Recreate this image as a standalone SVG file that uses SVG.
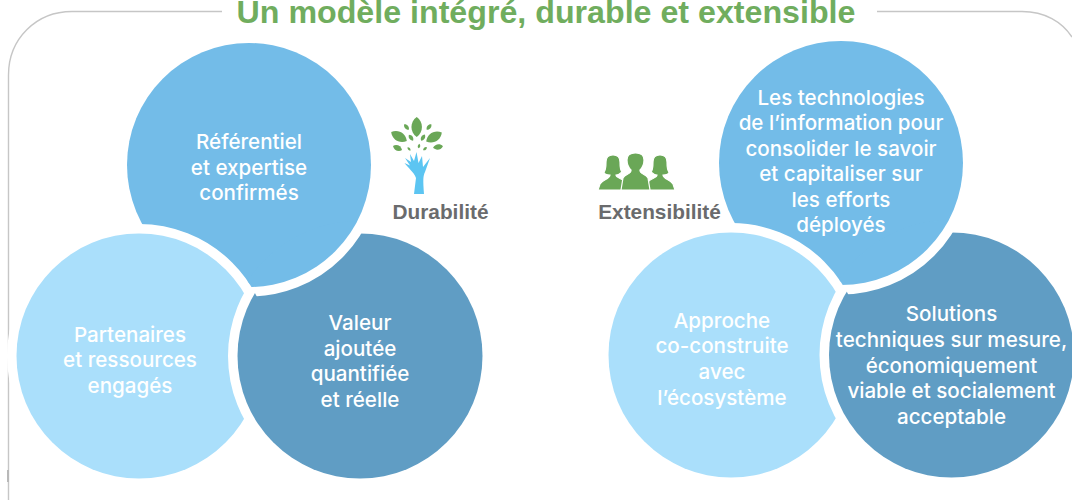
<svg xmlns="http://www.w3.org/2000/svg" width="1072" height="500" viewBox="0 0 1072 500">
<style>
text{font-family:"Inter","Liberation Sans",Arial,sans-serif;font-size:20.600px;text-anchor:middle;fill:#fff;font-weight:500}
.lbl{fill:#6a6b6d;font-weight:700;font-size:20.800px;font-family:"Liberation Sans",Arial,sans-serif}
.top{fill:#73bce8}
.ringed{stroke:#fff;stroke-width:19;paint-order:stroke}
.light{fill:#aadffb}
.dark{fill:#609dc4}
.leaf{fill:#6aa757}
.ppl{fill:#6aa757;stroke:#fff;stroke-width:1.2}
</style>
<defs>
<path id="leaf" d="M0,-10C7,-5 7,5 0,10C-7,5 -7,-5 0,-10Z"/>
<path id="side" d="M598,190L600,184C602,180 610,179 610,175C607,175 604,174 604,172C606,170 606,165 606,162C606,157 609,155 613,155C617,155 620,157 620,162C620,165 620,170 622,172C620,174 618,175 616,175C616,178 622,178 625,182L625,190Z"/>
<mask id="patch-left" maskUnits="userSpaceOnUse" x="0" y="0" width="1072" height="500">
<circle cx="360" cy="356" r="135" fill="#fff"/><circle cx="139" cy="356" r="132" fill="#000"/>
</mask>
<mask id="patch-right" maskUnits="userSpaceOnUse" x="0" y="0" width="1072" height="500">
<circle cx="951.500" cy="355" r="135" fill="#fff"/><circle cx="731" cy="355" r="132" fill="#000"/>
</mask>
</defs>
<g id="frame" fill="none" stroke="#c6c6c6" stroke-width="1.400">
<path d="M222,11.500H72C36,11.500 8.500,39 8.500,75V500"/>
<path d="M877,11.500H1022C1045,11.500 1062,22 1072,37"/>
<path d="M8,470V482" stroke="#b8b8b8" stroke-width="2"/>
</g>
<text id="title" x="546" y="22.500" style="font-size:32.200px;font-weight:700;fill:#70ad5e;font-family:'Liberation Sans',Arial,sans-serif">Un modèle intégré, durable et extensible</text>
<g id="left-top-base"><circle class="top" cx="249" cy="165" r="122"/></g>
<g id="left-light"><circle class="light ringed" cx="139" cy="356" r="122.500"/>
<text x="130" y="341.700">Partenaires</text><text x="130" y="366.700">et ressources</text><text x="130" y="392.700">engagés</text></g>
<g id="left-dark"><circle class="dark ringed" cx="360" cy="356" r="122.500"/>
<text x="360" y="330">Valeur</text><text x="360" y="356">ajoutée</text><text x="360" y="381">quantifiée</text><text x="360" y="407">et réelle</text></g>
<g id="left-top"><circle class="top ringed" cx="249" cy="165" r="122" mask="url(#patch-left)"/>
<text x="249" y="149">Référentiel</text><text x="249" y="175">et expertise</text><text x="249" y="200">confirmés</text></g>
<g id="right-top-base"><circle class="top" cx="841" cy="163" r="122"/></g>
<g id="right-light"><circle class="light ringed" cx="731" cy="355" r="122.500"/>
<text x="722" y="328">Approche</text><text x="722" y="353">co-construite</text><text x="722" y="379">avec</text><text x="722" y="405">l’écosystème</text></g>
<g id="right-dark"><circle class="dark ringed" cx="951.500" cy="355" r="122.500"/>
<text x="951.500" y="321">Solutions</text><text x="951.500" y="347">techniques sur mesure,</text><text x="951.500" y="373">économiquement</text><text x="951.500" y="398">viable et socialement</text><text x="951.500" y="424">acceptable</text></g>
<g id="right-top"><circle class="top ringed" cx="841" cy="163" r="122" mask="url(#patch-right)"/>
<text x="841" y="105">Les technologies</text><text x="841" y="130">de l’information pour</text><text x="841" y="156">consolider le savoir</text><text x="841" y="181">et capitaliser sur</text><text x="841" y="207">les efforts</text><text x="841" y="232">déployés</text></g>
<g id="durabilite">
<use href="#leaf" class="leaf" transform="translate(416.700,127) scale(1)"/>
<use href="#leaf" class="leaf" transform="translate(399,136.500) rotate(-60) scale(.9)"/>
<use href="#leaf" class="leaf" transform="translate(434,137) rotate(60) scale(.9)"/>
<use href="#leaf" class="leaf" transform="translate(406.500,127) rotate(-40) scale(.36)"/>
<use href="#leaf" class="leaf" transform="translate(429,127) rotate(40) scale(.36)"/>
<use href="#leaf" class="leaf" transform="translate(397.500,148) rotate(-65) scale(.5)"/>
<use href="#leaf" class="leaf" transform="translate(438,147) rotate(80) scale(.5)"/>
<use href="#leaf" class="leaf" transform="translate(411,137.700) rotate(-35) scale(.36)"/>
<use href="#leaf" class="leaf" transform="translate(423,137.700) rotate(30) scale(.36)"/>
<use href="#leaf" class="leaf" transform="translate(409,149) rotate(-40) scale(.22)"/>
<use href="#leaf" class="leaf" transform="translate(419,146) rotate(10) scale(.24)"/>
<use href="#leaf" class="leaf" transform="translate(425,148.700) rotate(50) scale(.24)"/>
<path d="M414,194L416,178C414,172 408,168 404.500,163L410,165.500L405,158L411,162L410,154L414,161L416.500,152L418.500,163L422,156L423,167L430,158L425,172C423,176 423,180 424,194Z" fill="#5cc5f2"/>
<text class="lbl" x="440.500" y="219">Durabilité</text>
</g>
<g id="extensibilite">
<use href="#side" class="ppl"/>
<use href="#side" class="ppl" transform="translate(1273,0) scale(-1,1)"/>
<path class="ppl" d="M621,190L623,178C625,174 632,174 631,170C628,167 627,163 627,160C627,155 631,153 635.500,153C640,153 644,155 644,160C644,163 643,167 640,170C639,174 646,174 648,178L650,190Z"/>
<text class="lbl" x="659.500" y="219">Extensibilité</text>
</g>
</svg>
